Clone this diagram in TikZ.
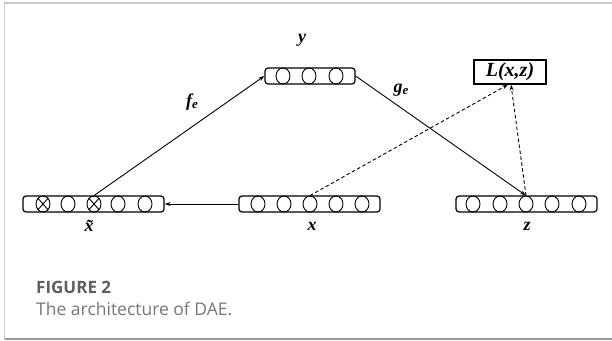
\documentclass[tikz,border=0pt]{standalone}
\usepackage{fontspec}
\setmainfont{Liberation Serif}
\newfontfamily\capfont{Open Sans}
\usetikzlibrary{shapes.geometric,arrows.meta}
\definecolor{framegray}{HTML}{CCCCCC}
\definecolor{framedark}{HTML}{999999}
\definecolor{capgray}{HTML}{777777}
\definecolor{capdark}{HTML}{5F5F5F}
\tikzset{
  bar/.style={draw, rounded corners=3pt, line width=1.2pt, minimum height=16pt, inner sep=0pt},
  unit/.style={draw, ellipse, minimum width=14pt, minimum height=16pt, inner sep=0pt, line width=0.9pt},
  lbl/.style={font=\fontsize{18}{20}\selectfont\bfseries\itshape, inner sep=0pt},
  sol/.style={line width=0.9pt, -{Stealth[length=6pt,width=4pt]}},
  dsh/.style={line width=0.9pt, dash pattern=on 3.5pt off 2.5pt, -{Stealth[length=6pt,width=4pt]}},
}
\newcommand{\crossunit}[1]{%
  \draw[line width=0.9pt] (#1.north east) -- (#1.south west)
    (#1.north west) -- (#1.south east);}
\begin{document}
\begin{tikzpicture}[x=1pt,y=-1pt]
\useasboundingbox (0,0) rectangle (612,340);
% panel frame
\draw[framegray, line width=1.5pt] (4.5,340) -- (4.5,3) -- (612,3);
\draw[framedark, line width=1.5pt] (4.5,339) -- (612,339);

% layer x-tilde
\node[bar, minimum width=141pt] (xtbar) at (93.5,204) {};
\foreach \i/\cx in {1/43,2/68,3/94,4/118,5/145}
  \node[unit] (xt\i) at (\cx,204) {};
\crossunit{xt1}
\crossunit{xt3}

% layer x
\node[bar, minimum width=141pt] (xbar) at (309.5,204) {};
\foreach \i/\cx in {1/258,2/284,3/310,4/336,5/362}
  \node[unit] (x\i) at (\cx,204) {};

% layer z
\node[bar, minimum width=141pt] (zbar) at (526.5,204) {};
\foreach \i/\cx in {1/473,2/500,3/526,4/552,5/579}
  \node[unit] (z\i) at (\cx,204) {};

% hidden layer y
\node[bar, minimum width=90pt] (ybar) at (310,76) {};
\foreach \i/\cx in {1/283,2/309,3/336}
  \node[unit] (y\i) at (\cx,76) {};

% loss box
\node[draw, line width=1.2pt, minimum width=72pt, minimum height=24pt, inner sep=0pt,
      font=\fontsize{20}{22}\selectfont\bfseries\itshape] (loss) at (510,72) {L(x,z)};

% layer labels
\node[lbl] (lxt) at (89,226) {\~{x}};
\node[lbl] (lx) at (312,226) {x};
\node[lbl] (lz) at (527,226) {z};
\node[lbl] (ly) at (302,40) {y};
\node[lbl] (lfe) at (192,102) {f\raisebox{-0.3ex}{\fontsize{13}{15}\selectfont e}};
\node[lbl] (lge) at (401,90) {g\raisebox{-0.3ex}{\fontsize{13}{15}\selectfont e}};

% connections
\draw[sol] (xbar.west) -- (xtbar.east);
\draw[sol] (xt3.north) -- (ybar.west);
\draw[sol] (ybar.east) -- (z3.north);
\draw[dsh] (x3.north) -- ([xshift=-2pt]loss.south);
\draw[dsh] (z3.north) -- ([xshift=1pt]loss.south);

% caption
\node[anchor=base west, inner sep=0pt, text=capdark,
      font=\capfont\fontsize{17}{19}\selectfont\bfseries] (cap1) at (36,293) {FIGURE 2};
\node[anchor=base west, inner sep=0pt, text=capgray,
      font=\capfont\fontsize{17.5}{19}\selectfont] (cap2) at (36,315) {The architecture of DAE.};
\end{tikzpicture}
\end{document}
